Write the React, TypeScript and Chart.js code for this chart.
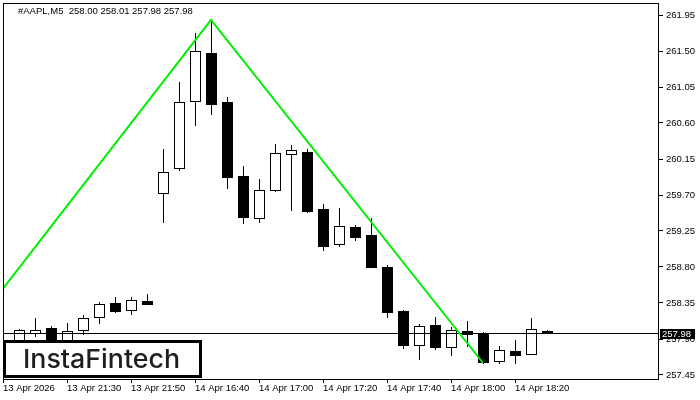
import React, { useEffect, useRef } from "react";
import { Chart, registerables } from "chart.js";

Chart.register(...registerables);

const headerText = "#AAPL,M5  258.00 258.01 257.98 257.98";
const logoText = "InstaFintech";

const candleIndex = [1, 2, 3, 4, 5, 6, 7, 8, 9, 10, 11, 12, 13, 14, 15, 16, 17, 18, 19, 20, 21, 22, 23, 24, 25, 26, 27, 28, 29, 30, 31, 32, 33, 34];
const opens = [257.85, 257.98, 258.04, 257.87, 258.01, 258.17, 258.35, 258.26, 258.38, 259.72, 260.04, 260.87, 261.47, 260.86, 259.94, 259.41, 259.76, 260.21, 260.24, 259.52, 259.09, 259.30, 259.20, 258.80, 258.25, 257.82, 258.07, 257.80, 258.00, 257.96, 257.62, 257.75, 257.71, 258.00];
const highs = [258.02, 258.16, 258.06, 258.10, 258.20, 258.36, 258.43, 258.43, 258.46, 260.27, 261.11, 261.72, 261.89, 260.92, 260.06, 259.90, 260.34, 260.32, 260.27, 259.59, 259.54, 259.32, 259.41, 258.82, 258.26, 258.09, 258.17, 258.05, 258.12, 257.99, 257.81, 257.89, 258.16, 258.01];
const lows = [257.82, 257.94, 257.83, 257.84, 257.96, 258.10, 258.24, 258.21, 258.34, 259.36, 260.01, 260.57, 260.71, 259.79, 259.35, 259.36, 259.75, 259.51, 259.49, 259.01, 259.06, 259.14, 258.80, 258.17, 257.79, 257.65, 257.77, 257.70, 257.81, 257.60, 257.60, 257.60, 257.71, 257.98];
const closes = [258.01, 258.01, 257.86, 258.00, 258.16, 258.34, 258.25, 258.39, 258.34, 259.99, 260.86, 261.50, 260.84, 259.92, 259.42, 259.76, 260.22, 260.26, 259.50, 259.06, 259.31, 259.17, 258.80, 258.24, 257.82, 258.06, 257.80, 258.01, 257.96, 257.61, 257.76, 257.70, 258.02, 257.98];

const patternIndex = [0, 13, 30];
const patternPrice = [258.53, 261.89, 257.6];

const lastPrice = 257.98;

const priceTicks = [257.45, 257.9, 258.35, 258.8, 259.25, 259.7, 260.15, 260.6, 261.05, 261.5, 261.95];
const timeTickIndex = [0, 4, 8, 12, 16, 20, 24, 28, 32];
const timeTickLabels = ["13 Apr 2026", "13 Apr 21:30", "13 Apr 21:50", "14 Apr 16:40", "14 Apr 17:00", "14 Apr 17:20", "14 Apr 17:40", "14 Apr 18:00", "14 Apr 18:20"];

const FONT = "Liberation Sans";
const FSIZE = 9.5;

const candlePlugin = {
  id: "candles",
  beforeDatasetsDraw(chart: any) {
    const { ctx, chartArea, scales } = chart;
    const xs = scales.x;
    const ys = scales.y;
    ctx.save();
    ctx.beginPath();
    ctx.rect(chartArea.left, chartArea.top, chartArea.right - chartArea.left, chartArea.bottom - chartArea.top);
    ctx.clip();
    for (let i = 0; i < candleIndex.length; i++) {
      const xc = Math.round(xs.getPixelForValue(candleIndex[i]));
      const o = ys.getPixelForValue(opens[i]);
      const c = ys.getPixelForValue(closes[i]);
      const h = Math.round(ys.getPixelForValue(highs[i]));
      const l = Math.round(ys.getPixelForValue(lows[i]));
      const top = Math.round(Math.min(o, c));
      const bot = Math.max(Math.round(Math.max(o, c)), top + 2);
      ctx.fillStyle = "#000";
      ctx.fillRect(xc, h, 1, l - h + 1);
      if (closes[i] >= opens[i]) {
        ctx.fillStyle = "#fff";
        ctx.fillRect(xc - 5, top, 11, bot - top + 1);
        ctx.strokeStyle = "#000";
        ctx.lineWidth = 1;
        ctx.strokeRect(xc - 4.5, top + 0.5, 10, bot - top);
      } else {
        ctx.fillStyle = "#000";
        ctx.fillRect(xc - 5, top, 11, bot - top + 1);
      }
    }
    const yp = Math.round(ys.getPixelForValue(lastPrice)) + 0.5;
    ctx.strokeStyle = "#000";
    ctx.lineWidth = 1;
    ctx.beginPath();
    ctx.moveTo(chartArea.left, yp);
    ctx.lineTo(chartArea.right, yp);
    ctx.stroke();
    ctx.restore();
  },
  afterDraw(chart: any) {
    const { ctx, chartArea, scales } = chart;
    const ys = scales.y;
    ctx.save();
    // frame
    ctx.strokeStyle = "#000";
    ctx.lineWidth = 1;
    ctx.strokeRect(chartArea.left + 0.5, chartArea.top + 0.5, chartArea.right - chartArea.left - 1, chartArea.bottom - chartArea.top);
    // header
    ctx.fillStyle = "#000";
    ctx.font = `${FSIZE}px "${FONT}"`;
    ctx.textBaseline = "middle";
    ctx.textAlign = "left";
    ctx.fillText(headerText, 18, 11);
    // last price label
    const yp = Math.round(ys.getPixelForValue(lastPrice));
    ctx.fillStyle = "#000";
    ctx.fillRect(chartArea.right + 1, yp - 4, 35, 10);
    ctx.fillStyle = "#fff";
    ctx.fillText(lastPrice.toFixed(2), chartArea.right + 3, yp + 1);
    // logo box
    ctx.fillStyle = "#fff";
    ctx.fillRect(3, 340, 199, 38);
    ctx.strokeStyle = "#000";
    ctx.lineWidth = 3;
    ctx.strokeRect(4.5, 341.5, 196, 35);
    ctx.font = `500 26px "Inter"`;
    ctx.textBaseline = "alphabetic";
    const w = ctx.measureText(logoText).width;
    const sx = 157 / w;
    ctx.translate(23, 368);
    ctx.scale(sx, 1);
    ctx.fillStyle = "#1e1e1e";
    ctx.fillText(logoText, 0, 0);
    ctx.restore();
  },
};

export default function App() {
  const ref = useRef<HTMLCanvasElement | null>(null);
  useEffect(() => {
    if (!ref.current) return;
    const chart = new Chart(ref.current, {
      type: "line",
      data: {
        datasets: [
          {
            data: patternIndex.map((x, i) => ({ x, y: patternPrice[i] })),
            borderColor: "#00ee00",
            borderWidth: 2,
            pointRadius: 0,
            tension: 0,
            fill: false,
          },
        ],
      },
      options: {
        animation: false,
        responsive: false,
        maintainAspectRatio: false,
        events: [],
        layout: { padding: { left: 3, top: 3, right: 0, bottom: 0 } },
        plugins: { legend: { display: false }, tooltip: { enabled: false } },
        scales: {
          x: {
            type: "linear",
            position: "bottom",
            min: 0,
            max: 41,
            afterBuildTicks: (s: any) => {
              s.ticks = timeTickIndex.map((v) => ({ value: v }));
            },
            afterFit: (s: any) => {
              s.height = 21;
              s.paddingLeft = 0;
              s.paddingRight = 0;
            },
            grid: { display: true, drawOnChartArea: false, drawTicks: true, tickLength: 4, color: "#000", lineWidth: 1 },
            border: { display: false },
            ticks: {
              autoSkip: false,
              maxRotation: 0,
              minRotation: 0,
              align: "start",
              padding: 0,
              color: "#000",
              font: { family: FONT, size: FSIZE },
              callback: (v: any) => {
                const k = timeTickIndex.indexOf(Number(v));
                return k >= 0 ? timeTickLabels[k] : "";
              },
            },
          },
          y: {
            type: "linear",
            position: "right",
            min: 257.4,
            max: 262.1,
            afterBuildTicks: (s: any) => {
              s.ticks = priceTicks.map((v) => ({ value: v }));
            },
            afterFit: (s: any) => {
              s.width = 41;
              s.paddingTop = 0;
              s.paddingBottom = 0;
            },
            grid: { display: true, drawOnChartArea: false, drawTicks: true, tickLength: 4, color: "#000", lineWidth: 1 },
            border: { display: false },
            ticks: {
              padding: 3,
              color: "#000",
              font: { family: FONT, size: FSIZE },
              callback: (v: any) => Number(v).toFixed(2),
            },
          },
        },
      } as any,
      plugins: [candlePlugin],
    });
    return () => chart.destroy();
  }, []);
  return (
    <div style={{ position: "fixed", left: 0, top: 0, width: 700, height: 400, background: "#fff" }}>
      <canvas ref={ref} width={700} height={400} style={{ display: "block", width: 700, height: 400 }} />
    </div>
  );
}
